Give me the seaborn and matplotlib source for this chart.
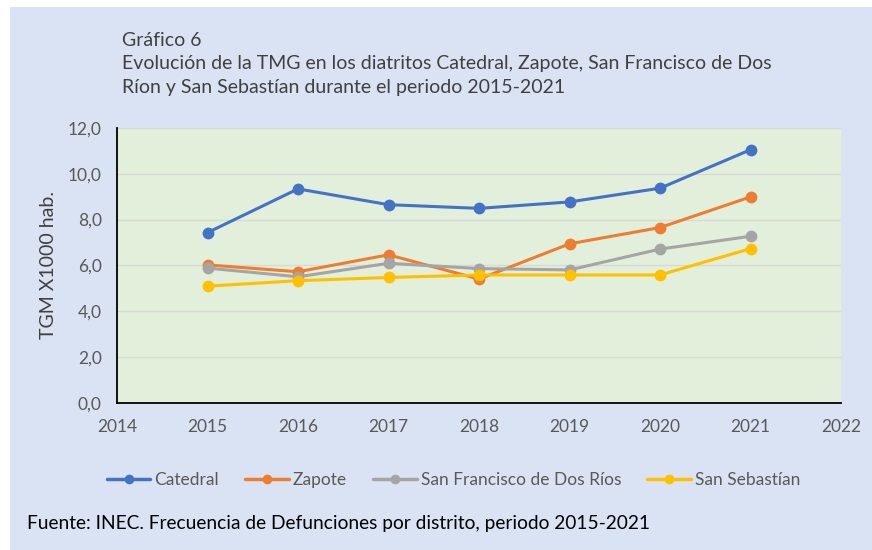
import matplotlib
matplotlib.use("Agg")
import matplotlib.pyplot as plt
import seaborn as sns
import pandas as pd
from matplotlib.patches import Rectangle
from matplotlib.ticker import FuncFormatter, MultipleLocator

years = [2015, 2016, 2017, 2018, 2019, 2020, 2021]
catedral = [7.43, 9.34, 8.65, 8.49, 8.77, 9.37, 11.05]
zapote = [6.02, 5.72, 6.46, 5.40, 6.94, 7.65, 8.99]
san_francisco = [5.88, 5.50, 6.09, 5.86, 5.80, 6.71, 7.27]
san_sebastian = [5.09, 5.33, 5.47, 5.58, 5.58, 5.58, 6.73]
series_names = ["Catedral", "Zapote", "San Francisco de Dos Ríos", "San Sebastían"]
colors = ["#4472C4", "#ED7D31", "#A5A5A5", "#FFC000"]

rows = []
for name, vals in zip(series_names, [catedral, zapote, san_francisco, san_sebastian]):
    for y, v in zip(years, vals):
        rows.append({"Año": y, "TGM": v, "Distrito": name})
df = pd.DataFrame(rows)

sns.set_style("white")
plt.rcParams['font.family'] = ['Lato', 'DejaVu Sans']

fig = plt.figure(figsize=(8.72, 5.5), dpi=100)
fig.patch.set_facecolor("white")
fig.patches.append(Rectangle((10/872, 0), 1 - 10/872, 1 - 7/550, transform=fig.transFigure,
                             facecolor="#DAE3F3", edgecolor="none", zorder=-10))

ax = fig.add_axes([117/872, 1 - 402.7/550, (841 - 117)/872, (402.7 - 128)/550])
ax.set_facecolor("#E2EFDA")

sns.lineplot(data=df, x="Año", y="TGM", hue="Distrito", palette=colors, marker="o",
             markersize=8.5, markeredgewidth=0, linewidth=2.2, ax=ax, legend=True)

ax.set_xlim(2014, 2022)
ax.set_ylim(0, 12)
ax.xaxis.set_major_locator(MultipleLocator(1))
ax.yaxis.set_major_locator(MultipleLocator(2))
ax.yaxis.set_major_formatter(FuncFormatter(lambda v, p: f"{v:.1f}".replace(".", ",")))
ax.grid(axis="y", color="#D9D9D9", linewidth=1)
ax.set_axisbelow(True)
for s in ["top", "right"]:
    ax.spines[s].set_visible(False)
for s in ["left", "bottom"]:
    ax.spines[s].set_color("black")
    ax.spines[s].set_linewidth(1.3)
ax.tick_params(axis="both", which="major", direction="out", length=5, width=1.2,
               color="black", labelsize=12.5, labelcolor="#595959", pad=6)
ax.tick_params(axis="x", pad=7)
ax.set_xlabel("")
ax.set_ylabel("TGM X1000 hab.", fontsize=14, color="#404040", labelpad=8)

leg = ax.legend(loc="center", bbox_to_anchor=(0.465, (403 - 480) / 275), ncol=4, frameon=False,
                fontsize=12.5, handlelength=2.5, columnspacing=1.5, handletextpad=0.25)
for t in leg.get_texts():
    t.set_color("#595959")
for h in leg.legend_handles:
    h.set_markersize(7)
    h.set_linewidth(2.5)

tcol = "#404040"
fig.text(122/872, 1 - 40/550, "Gráfico 6", fontsize=14, color=tcol, va="center", ha="left")
fig.text(122/872, 1 - 63/550, "Evolución de la TMG en los diatritos Catedral, Zapote, San Francisco de Dos",
         fontsize=14, color=tcol, va="center", ha="left")
fig.text(122/872, 1 - 88/550, "Ríon y San Sebastían durante el periodo 2015-2021",
         fontsize=14, color=tcol, va="center", ha="left")
fig.text(27/872, 1 - 523/550, "Fuente: INEC. Frecuencia de Defunciones por distrito, periodo 2015-2021",
         fontsize=13.8, color="black", va="center", ha="left")

fig.savefig("out.png", dpi=100, facecolor=fig.get_facecolor())
